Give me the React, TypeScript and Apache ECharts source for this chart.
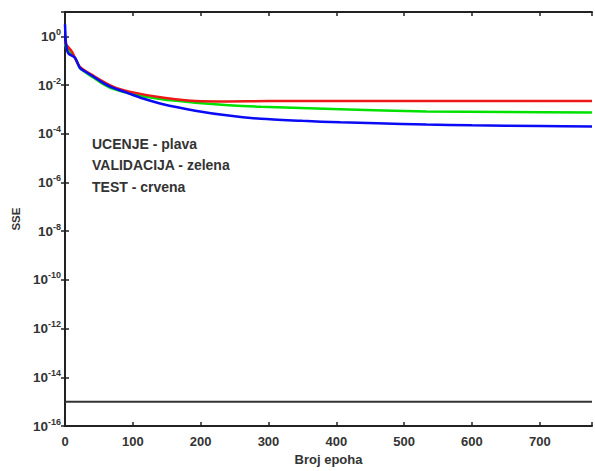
import React, { useEffect, useRef } from "react";
import * as echarts from "echarts";

// Epochs and SSE values
const blueEpochs = [0, 1, 2, 5, 15, 22, 29, 41, 56, 70, 90, 115, 143, 192, 241, 289, 350, 406, 460, 533, 600, 700, 777];
const blueValues = [3.16, 0.79, 0.38, 0.2, 0.13, 0.05, 0.037, 0.023, 0.0123, 0.0078, 0.005, 0.0028, 0.00166, 0.00089, 0.00056, 0.00041, 0.00034, 0.000295, 0.000269, 0.00024, 0.000224, 0.000209, 0.0002];

const greenEpochs = [0, 2, 15, 22, 29, 41, 56, 70, 95, 143, 192, 241, 289, 406, 533, 650, 777];
const greenValues = [0.5, 0.35, 0.126, 0.05, 0.035, 0.021, 0.0112, 0.0071, 0.0045, 0.0026, 0.0019, 0.0015, 0.00129, 0.00102, 0.00083, 0.00079, 0.00075];

const redEpochs = [0, 2, 10, 22, 41, 70, 95, 143, 192, 241, 300, 400, 777];
const redValues = [0.63, 0.45, 0.24, 0.056, 0.025, 0.0089, 0.0054, 0.0031, 0.00224, 0.00214, 0.0022, 0.0022, 0.0022];

const goalEpochs = [0, 777];
const goalValues = [1e-15, 1e-15];

const legendLines = ["UCENJE - plava", "VALIDACIJA - zelena", "TEST - crvena"];

const X_MAX = 777;
const FONT = "'Liberation Sans', Arial, sans-serif";

const pairs = (xs: number[], ys: number[]) => xs.map((x, i) => [x, ys[i]]);

export default function App() {
  const ref = useRef<HTMLDivElement>(null);
  useEffect(() => {
    if (!ref.current) return;
    const chart = echarts.init(ref.current, undefined, { renderer: "svg" });
    const lineSeries = (name: string, data: number[][], color: string, width = 2.5) => ({
      type: "line",
      name,
      data,
      showSymbol: false,
      symbol: "none",
      smooth: 0.3,
      lineStyle: { color, width },
      itemStyle: { color },
      z: 3,
    });
    chart.setOption({
      animation: false,
      backgroundColor: "#fff",
      grid: { left: 65, top: 12, width: 532, height: 421 },
      xAxis: [
        {
          type: "value",
          min: 0,
          max: X_MAX,
          interval: 100,
          position: "bottom",
          name: "Broj epoha",
          nameLocation: "middle",
          nameGap: 23,
          nameTextStyle: { fontFamily: FONT, fontWeight: "bold", fontSize: 13, color: "#333" },
          axisLine: { lineStyle: { color: "#222", width: 2 } },
          axisTick: { inside: true, length: 4, lineStyle: { color: "#222", width: 1.5 } },
          axisLabel: {
            margin: 9,
            fontFamily: FONT,
            fontWeight: "bold",
            fontSize: 13,
            color: "#333",
            formatter: (v: number) => (v % 100 === 0 ? String(v) : ""),
          },
          splitLine: { show: false },
        },
        {
          type: "value",
          min: 0,
          max: X_MAX,
          interval: 100,
          position: "top",
          axisLine: { lineStyle: { color: "#222", width: 2 } },
          axisTick: { inside: true, length: 4, lineStyle: { color: "#222", width: 1.5 } },
          axisLabel: { show: false },
          splitLine: { show: false },
        },
      ],
      yAxis: [
        {
          type: "log",
          logBase: 10,
          min: 1e-16,
          max: 10,
          interval: 2,
          name: "SSE",
          nameLocation: "middle",
          nameGap: 43,
          nameTextStyle: { fontFamily: FONT, fontWeight: "bold", fontSize: 11.5, color: "#333" },
          axisLine: { lineStyle: { color: "#222", width: 2 } },
          axisTick: { inside: true, length: 4, lineStyle: { color: "#222", width: 1.5 } },
          axisLabel: {
            margin: 4,
            formatter: (v: number) => {
              const e = Math.round(Math.log10(v));
              if (e % 2 !== 0 || e > 0) return "";
              return `{b|10}{e|${e}}`;
            },
            rich: {
              b: { fontFamily: FONT, fontWeight: "bold", fontSize: 13.5, color: "#333", lineHeight: 18 },
              e: { fontFamily: FONT, fontWeight: "bold", fontSize: 9, color: "#333", verticalAlign: "top", lineHeight: 9 },
            },
          },
          splitLine: { show: false },
        },
        {
          type: "log",
          logBase: 10,
          min: 1e-16,
          max: 10,
          interval: 2,
          position: "right",
          axisLine: { lineStyle: { color: "#222", width: 2 } },
          axisTick: { inside: true, length: 4, lineStyle: { color: "#222", width: 1.5 } },
          axisLabel: { show: false },
          splitLine: { show: false },
        },
      ],
      graphic: legendLines.map((t, i) => ({
        type: "text",
        x: 92,
        y: 143.5 + i * 21.5,
        style: {
          text: t,
          fontFamily: FONT,
          fontSize: 14,
          fontWeight: "bold",
          fill: "#333",
          textVerticalAlign: "middle",
          verticalAlign: "middle",
        },
      })),
      series: [
        lineSeries("VALIDACIJA", pairs(greenEpochs, greenValues), "rgb(0,225,0)"),
        lineSeries("TEST", pairs(redEpochs, redValues), "rgb(235,25,25)"),
        lineSeries("UCENJE", pairs(blueEpochs, blueValues), "rgb(10,10,245)"),
        { ...lineSeries("goal", pairs(goalEpochs, goalValues), "#333", 2), smooth: false },
      ],
    });
    return () => chart.dispose();
  }, []);
  return (
    <div
      ref={ref}
      style={{ position: "fixed", left: 0, top: 0, width: 595, height: 471, background: "#fff" }}
    />
  );
}
